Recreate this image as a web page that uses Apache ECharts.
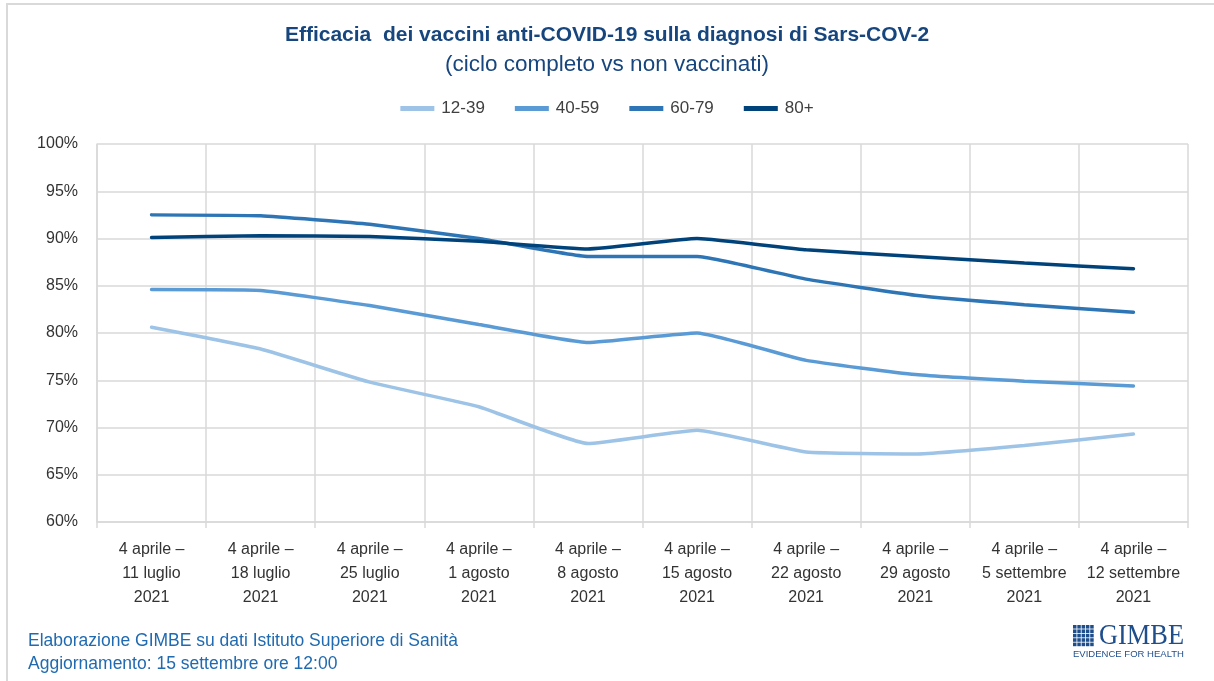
<!DOCTYPE html>
<html>
<head>
<meta charset="utf-8">
<script src="https://cdn.jsdelivr.net/npm/echarts@6/dist/echarts.min.js"></script>
<style>
  html, body { margin: 0; padding: 0; background: #fff; }
  #chart { width: 1214px; height: 681px; }
</style>
</head>
<body>
<div id="chart"></div>
<script>
// periodi (tutti dal 4 aprile 2021)
let categories = [
  '4 aprile –\n11 luglio\n2021',
  '4 aprile –\n18 luglio\n2021',
  '4 aprile –\n25 luglio\n2021',
  '4 aprile –\n1 agosto\n2021',
  '4 aprile –\n8 agosto\n2021',
  '4 aprile –\n15 agosto\n2021',
  '4 aprile –\n22 agosto\n2021',
  '4 aprile –\n29 agosto\n2021',
  '4 aprile –\n5 settembre\n2021',
  '4 aprile –\n12 settembre\n2021'
];

let age12_39 = [80.6, 78.3, 74.8, 72.2, 68.3, 69.7, 67.4, 67.2, 68.1, 69.3];
let age40_59 = [84.6, 84.5, 82.9, 80.9, 79.0, 80.0, 77.1, 75.6, 74.9, 74.4];
let age60_79 = [92.5, 92.4, 91.5, 90.0, 88.1, 88.1, 85.7, 84.0, 83.0, 82.2];
let age80 = [90.1, 90.3, 90.2, 89.7, 88.9, 90.0, 88.8, 88.1, 87.4, 86.8];

let seriesNames = ['12-39', '40-59', '60-79', '80+'];
let seriesColors = ['#9DC3E6', '#5B9BD5', '#2E75B6', '#00427A'];

let font = '"Liberation Sans", sans-serif';

let chart = echarts.init(document.getElementById('chart'));

// piccolo logo a griglia
let logoCells = [];
for (let r = 0; r < 5; r++) {
  for (let c = 0; c < 5; c++) {
    logoCells.push({
      type: 'rect',
      shape: {x: c * 4.3, y: r * 4.4, width: 3.5, height: 3.6},
      style: {fill: '#1F4E8C'}
    });
  }
}

let series = [age12_39, age40_59, age60_79, age80].map(function(values, i) {
  return {
    name: seriesNames[i],
    type: 'line',
    data: values,
    symbol: 'none',
    smooth: 0.12,
    lineStyle: {width: 3.5, color: seriesColors[i], cap: 'round'},
    itemStyle: {color: seriesColors[i]},
    z: 2 + i
  };
});

chart.setOption({
  animation: false,
  textStyle: {fontFamily: font},
  title: [{
    text: 'Efficacia  dei vaccini anti-COVID-19 sulla diagnosi di Sars-COV-2',
    left: 'center',
    top: 20,
    textStyle: {fontFamily: font, fontSize: 21, fontWeight: 'bold', color: '#17467E'}
  }, {
    text: '(ciclo completo vs non vaccinati)',
    left: 'center',
    top: 48,
    textStyle: {fontFamily: font, fontSize: 22.5, fontWeight: 'normal', color: '#17467E'}
  }],
  legend: {
    top: 95,
    left: 'center',
    data: seriesNames,
    icon: 'rect',
    itemWidth: 34,
    itemHeight: 5,
    itemGap: 30,
    textStyle: {fontFamily: font, fontSize: 17, color: '#404040', padding: [0, 0, 0, 2]}
  },
  grid: {left: 97, right: 26, top: 144, bottom: 159},
  xAxis: {
    type: 'category',
    data: categories,
    boundaryGap: true,
    axisLine: {show: true, lineStyle: {color: '#D9D9D9', width: 1.5}},
    axisTick: {show: true, length: 6, lineStyle: {color: '#D9D9D9', width: 1.5}},
    splitLine: {show: true, lineStyle: {color: '#D9D9D9', width: 1.5}},
    axisLabel: {
      fontFamily: font, fontSize: 16, color: '#333333',
      lineHeight: 24, margin: 16, interval: 0
    }
  },
  yAxis: {
    type: 'value',
    min: 60,
    max: 100,
    interval: 5,
    axisLine: {show: true, lineStyle: {color: '#D9D9D9', width: 1.5}},
    axisTick: {show: false},
    splitLine: {show: true, lineStyle: {color: '#D9D9D9', width: 1.5}},
    axisLabel: {
      fontFamily: font, fontSize: 16, color: '#333333', margin: 19,
      formatter: '{value}%'
    }
  },
  graphic: [
    {
      type: 'rect',
      shape: {x: 7, y: 4, width: 1220, height: 700},
      style: {fill: 'none', stroke: '#D9D9D9', lineWidth: 2},
      silent: true
    },
    {
      type: 'text',
      left: 28,
      top: 630,
      style: {
        text: 'Elaborazione GIMBE su dati Istituto Superiore di Sanità\nAggiornamento: 15 settembre ore 12:00',
        font: '17.5px ' + font,
        fill: '#1F6AB0',
        lineHeight: 23
      }
    },
    {
      type: 'group',
      left: 1073,
      top: 625,
      children: logoCells
    },
    {
      type: 'text',
      x: 1099,
      y: 621,
      scaleX: 0.88,
      style: {
        text: 'GIMBE',
        font: '30px "Liberation Serif", serif',
        fill: '#1F4E8C'
      }
    },
    {
      type: 'text',
      x: 1073,
      y: 650,
      scaleX: 1.12,
      style: {
        text: 'EVIDENCE FOR HEALTH',
        font: '8.5px "Liberation Sans", sans-serif',
        fill: '#1F4E8C'
      }
    }
  ],
  series: series
});
</script>
</body>
</html>
